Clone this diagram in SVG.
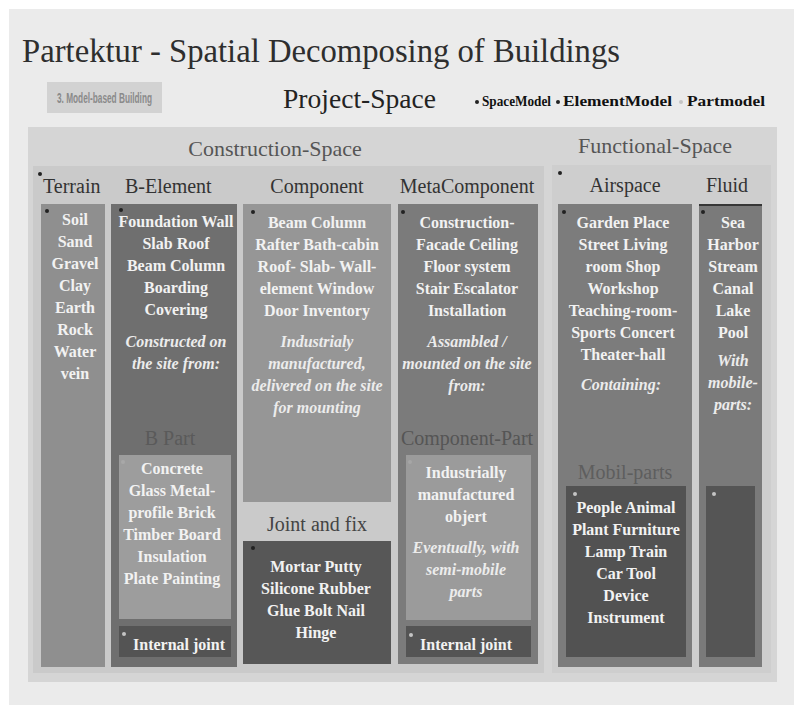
<svg xmlns="http://www.w3.org/2000/svg" width="794" height="705" viewBox="0 0 794 705">
<style>
text{font-family:"Liberation Serif","Times New Roman",serif}
.hd{font-size:20px;fill:#333}
.sp{font-size:22px;fill:#555}
.sub{font-size:20px;text-anchor:middle}
.bt{font-size:16px;font-weight:bold;fill:#f2f2f2;text-anchor:middle}
.it{font-size:16px;font-weight:bold;font-style:italic;fill:#ececec;text-anchor:middle}
.lg{font-size:14px;font-weight:bold;fill:#111}
.sans{font-family:"Liberation Sans",Arial,sans-serif}
.dk{fill:#222}
.lt{fill:#c4c4c4}
</style>
<rect x="0" y="0" width="794" height="705" fill="#ffffff"/>
<rect x="9" y="9" width="785" height="696" fill="#ebebeb"/>
<text x="22" y="62" font-size="33" fill="#2e2e2e" textLength="598" lengthAdjust="spacingAndGlyphs">Partektur - Spatial Decomposing of Buildings</text>
<g id="model-based">
<rect x="47" y="82" width="115" height="31" fill="#d2d2d2"/>
<text class="sans" x="57" y="103" font-size="14" font-weight="bold" fill="#8a8a8a" textLength="95" lengthAdjust="spacingAndGlyphs">3. Model-based Building</text>
</g>
<text x="283" y="108" font-size="27" fill="#222" textLength="153" lengthAdjust="spacingAndGlyphs">Project-Space</text>
<g id="legend">
<circle class="dk" cx="477" cy="102" r="2"/>
<text class="lg" x="482" y="106" textLength="69" lengthAdjust="spacingAndGlyphs">SpaceModel</text>
<circle class="dk" cx="558" cy="102" r="2"/>
<text class="lg" x="563" y="106" textLength="109" lengthAdjust="spacingAndGlyphs">ElementModel</text>
<circle class="lt" cx="681" cy="102" r="2"/>
<text class="lg" x="687" y="106" textLength="78" lengthAdjust="spacingAndGlyphs">Partmodel</text>
</g>
<g id="project-space">
<rect x="28" y="127" width="749" height="555" fill="#d5d5d5"/>
</g>
<g id="construction-space">
<rect x="33" y="166" width="511" height="507" fill="#cacaca"/>
<text class="sp" x="275" y="156" text-anchor="middle">Construction-Space</text>
</g>
<g id="functional-space">
<rect x="552" y="165" width="219" height="508" fill="#cecece"/>
<text class="sp" x="655" y="153" text-anchor="middle">Functional-Space</text>
</g>
<g id="terrain">
<circle class="dk" cx="40" cy="174" r="2"/>
<text class="hd" x="43" y="193">Terrain</text>
<rect x="41" y="204" width="64" height="463" fill="#8f8f8f"/>
<circle class="dk" cx="47" cy="211" r="2"/>
<text class="bt" x="75" y="225">Soil</text>
<text class="bt" x="75" y="247">Sand</text>
<text class="bt" x="75" y="269">Gravel</text>
<text class="bt" x="75" y="291">Clay</text>
<text class="bt" x="75" y="313">Earth</text>
<text class="bt" x="75" y="335">Rock</text>
<text class="bt" x="75" y="357">Water</text>
<text class="bt" x="75" y="379">vein</text>
</g>
<g id="b-element">
<text class="hd" x="125" y="193">B-Element</text>
<rect x="111" y="204" width="126" height="463" fill="#6f6f6f"/>
<circle class="dk" cx="121" cy="210" r="2"/>
<text class="bt" x="176" y="227">Foundation Wall</text>
<text class="bt" x="176" y="249">Slab Roof</text>
<text class="bt" x="176" y="271">Beam Column</text>
<text class="bt" x="176" y="293">Boarding</text>
<text class="bt" x="176" y="315">Covering</text>
<text class="it" x="176" y="347">Constructed on</text>
<text class="it" x="176" y="369">the site from:</text>
</g>
<g id="b-part">
<text class="sub" x="170" y="445" fill="#5a5a5a">B Part</text>
<rect x="119" y="455" width="112" height="164" fill="#9d9d9d"/>
<circle cx="123" cy="462" r="2" fill="#a8a8a8"/>
<text class="bt" x="172" y="474">Concrete</text>
<text class="bt" x="172" y="496">Glass Metal-</text>
<text class="bt" x="172" y="518">profile Brick</text>
<text class="bt" x="172" y="540">Timber Board</text>
<text class="bt" x="172" y="562">Insulation</text>
<text class="bt" x="172" y="584">Plate Painting</text>
</g>
<g id="b-internal-joint">
<rect x="119" y="626" width="112" height="31" fill="#545454"/>
<circle class="lt" cx="124" cy="634" r="2"/>
<text class="bt" x="179" y="650">Internal joint</text>
</g>
<g id="component">
<text class="hd" x="317" y="193" text-anchor="middle">Component</text>
<rect x="243" y="204" width="148" height="298" fill="#969696"/>
<circle class="dk" cx="253" cy="212" r="2"/>
<text class="bt" x="317" y="228">Beam Column</text>
<text class="bt" x="317" y="250">Rafter  Bath-cabin</text>
<text class="bt" x="317" y="272">Roof- Slab- Wall-</text>
<text class="bt" x="317" y="294">element Window</text>
<text class="bt" x="317" y="316">Door Inventory</text>
<text class="it" x="317" y="347">Industrialy</text>
<text class="it" x="317" y="369">manufactured,</text>
<text class="it" x="317" y="391">delivered on the site</text>
<text class="it" x="317" y="413">for mounting</text>
</g>
<g id="joint-and-fix">
<text class="sub" x="317" y="531" fill="#444">Joint and fix</text>
<rect x="243" y="541" width="148" height="123" fill="#575757"/>
<circle class="dk" cx="253" cy="548" r="2"/>
<text class="bt" x="316" y="572">Mortar Putty</text>
<text class="bt" x="316" y="594">Silicone Rubber</text>
<text class="bt" x="316" y="616">Glue Bolt  Nail</text>
<text class="bt" x="316" y="638">Hinge</text>
</g>
<g id="metacomponent">
<text class="hd" x="467" y="193" text-anchor="middle">MetaComponent</text>
<rect x="398" y="204" width="140" height="460" fill="#7b7b7b"/>
<circle class="dk" cx="403" cy="212" r="2"/>
<text class="bt" x="467" y="228">Construction-</text>
<text class="bt" x="467" y="250">Facade  Ceiling</text>
<text class="bt" x="467" y="272">Floor system</text>
<text class="bt" x="467" y="294">Stair Escalator</text>
<text class="bt" x="467" y="316">Installation</text>
<text class="it" x="467" y="347">Assambled /</text>
<text class="it" x="467" y="369">mounted on the site</text>
<text class="it" x="467" y="391">from:</text>
</g>
<g id="component-part">
<text class="sub" x="467" y="445" fill="#555">Component-Part</text>
<rect x="406" y="455" width="125" height="165" fill="#9b9b9b"/>
<circle cx="410" cy="462" r="2" fill="#a6a6a6"/>
<text class="bt" x="466" y="478">Industrially</text>
<text class="bt" x="466" y="500">manufactured</text>
<text class="bt" x="466" y="522">objert</text>
<text class="it" x="466" y="553">Eventually, with</text>
<text class="it" x="466" y="575">semi-mobile</text>
<text class="it" x="466" y="597">parts</text>
</g>
<g id="meta-internal-joint">
<rect x="406" y="626" width="125" height="31" fill="#545454"/>
<circle class="lt" cx="411" cy="635" r="2"/>
<text class="bt" x="466" y="650">Internal joint</text>
</g>
<g id="airspace">
<circle class="dk" cx="560" cy="173" r="2"/>
<text class="hd" x="625" y="192" text-anchor="middle">Airspace</text>
<rect x="558" y="204" width="134" height="463" fill="#7c7c7c"/>
<circle class="dk" cx="564" cy="212" r="2"/>
<text class="bt" x="623" y="228">Garden Place</text>
<text class="bt" x="623" y="250">Street Living</text>
<text class="bt" x="623" y="272">room Shop</text>
<text class="bt" x="623" y="294">Workshop</text>
<text class="bt" x="623" y="316">Teaching-room-</text>
<text class="bt" x="623" y="338">Sports   Concert</text>
<text class="bt" x="623" y="360">Theater-hall</text>
<text class="it" x="621" y="390">Containing:</text>
</g>
<g id="mobil-parts">
<text class="sub" x="625" y="479" fill="#5e5e5e">Mobil-parts</text>
<rect x="566" y="486" width="120" height="171" fill="#525252"/>
<circle class="lt" cx="575" cy="494" r="2"/>
<text class="bt" x="626" y="513">People Animal</text>
<text class="bt" x="626" y="535">Plant Furniture</text>
<text class="bt" x="626" y="557">Lamp Train</text>
<text class="bt" x="626" y="579">Car Tool</text>
<text class="bt" x="626" y="601">Device</text>
<text class="bt" x="626" y="623">Instrument</text>
</g>
<g id="fluid">
<text class="hd" x="727" y="192" text-anchor="middle">Fluid</text>
<rect x="699" y="204" width="63" height="463" fill="#7a7a7a"/>
<line x1="699" y1="205" x2="762" y2="205" stroke="#222" stroke-width="1.5"/>
<circle class="dk" cx="703" cy="212" r="2"/>
<text class="bt" x="733" y="228">Sea</text>
<text class="bt" x="733" y="250">Harbor</text>
<text class="bt" x="733" y="272">Stream</text>
<text class="bt" x="733" y="294">Canal</text>
<text class="bt" x="733" y="316">Lake</text>
<text class="bt" x="733" y="338">Pool</text>
<text class="it" x="733" y="366">With</text>
<text class="it" x="733" y="388">mobile-</text>
<text class="it" x="733" y="410">parts:</text>
</g>
<g id="fluid-parts">
<rect x="706" y="486" width="49" height="171" fill="#555555"/>
<circle class="lt" cx="714" cy="494" r="2"/>
</g>
<g id="connectors"></g>
</svg>
